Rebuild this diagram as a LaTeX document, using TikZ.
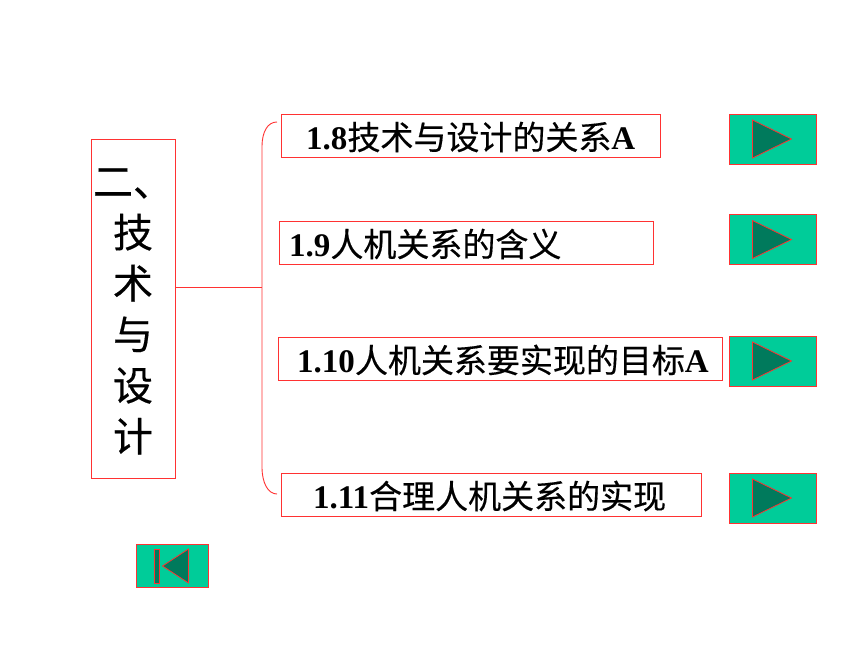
\documentclass[tikz,border=0pt]{standalone}
\usepackage{fontspec}
\setmainfont{Liberation Serif}
\newfontfamily\cjk[FakeBold=0.4]{Noto Sans CJK SC}
\usetikzlibrary{calc}
\definecolor{lred}{RGB}{255,50,50}
\definecolor{btnfill}{RGB}{0,204,153}
\definecolor{tridark}{RGB}{0,122,92}
\tikzset{
  box/.style={draw=lred, line width=1pt, rectangle, inner sep=0pt, anchor=west},
  lbl/.style={anchor=west, inner sep=0pt, font=\fontsize{33}{33}\selectfont},
  btn/.style={draw=lred, line width=1pt, fill=btnfill, rectangle, inner sep=0pt, minimum width=87pt, minimum height=50pt},
  tri/.style={draw=lred, line width=0.8pt, fill=tridark, line join=miter},
  conn/.style={draw=lred, line width=0.9pt}
}
\newcommand{\nb}[1]{\textbf{#1}}
\begin{document}
\begin{tikzpicture}[x=1pt,y=-1pt]
\useasboundingbox (0,0) rectangle (860,645);
\fill[white] (0,0) rectangle (860,645);
% left box
\node[draw=lred, line width=1pt, rectangle, inner sep=0pt, minimum width=84pt, minimum height=339pt] (lbox) at (133,308.5) {};
\node[inner sep=0pt, align=center, font=\cjk\fontsize{40}{51}\selectfont] (ltxt) at (lbox.center) [yshift=-3pt] {二、\\技\\术\\与\\设\\计};
% brace
\coordinate (bm) at (262,287);
\coordinate (bt) at (277,122);
\coordinate (bb) at (277,494);
\draw[conn] (lbox.east |- bm) -- (bm);
\draw[conn] (bt) .. controls (268,122) and (262,131) .. (262,147) -- (262,467) .. controls (262,483) and (268,494) .. (bb);
% item boxes
\node[box, minimum width=379pt, minimum height=43pt] (b1) at (281,135.5) {};
\node[lbl] (t1) at (306,137) {\nb{1.8}{\cjk 技术与设计的关系}\nb{A}};
\node[box, minimum width=374pt, minimum height=43pt] (b2) at (279,242.5) {};
\node[lbl] (t2) at (289,244) {\nb{1.9}{\cjk 人机关系的含义}};
\node[box, minimum width=444pt, minimum height=43pt] (b3) at (278,358.5) {};
\node[lbl] (t3) at (297,360) {\nb{1.10}{\cjk 人机关系要实现的目标}\nb{A}};
\node[box, minimum width=420pt, minimum height=43pt] (b4) at (281,494.5) {};
\node[lbl] (t4) at (313,496) {\nb{1.11}{\cjk 合理人机关系的实现}};
% buttons
\foreach \n/\y in {n1/139, n2/239.5, n3/361, n4/498}{
  \node[btn] (\n) at (772.5,\y) {};
  \draw[tri] ($(\n.west)+(24,-19)$) -- ($(\n.west)+(63,0)$) -- ($(\n.west)+(24,19)$) -- cycle;
}
% home button
\node[btn, minimum width=72pt, minimum height=43pt] (home) at (172,565.5) {};
\draw[tri] ($(home.west)+(19,-16.5)$) rectangle ($(home.west)+(24,17.5)$);
\draw[tri] ($(home.west)+(27,0.5)$) -- ($(home.west)+(53,-16.5)$) -- ($(home.west)+(53,17.5)$) -- cycle;
\end{tikzpicture}
\end{document}
